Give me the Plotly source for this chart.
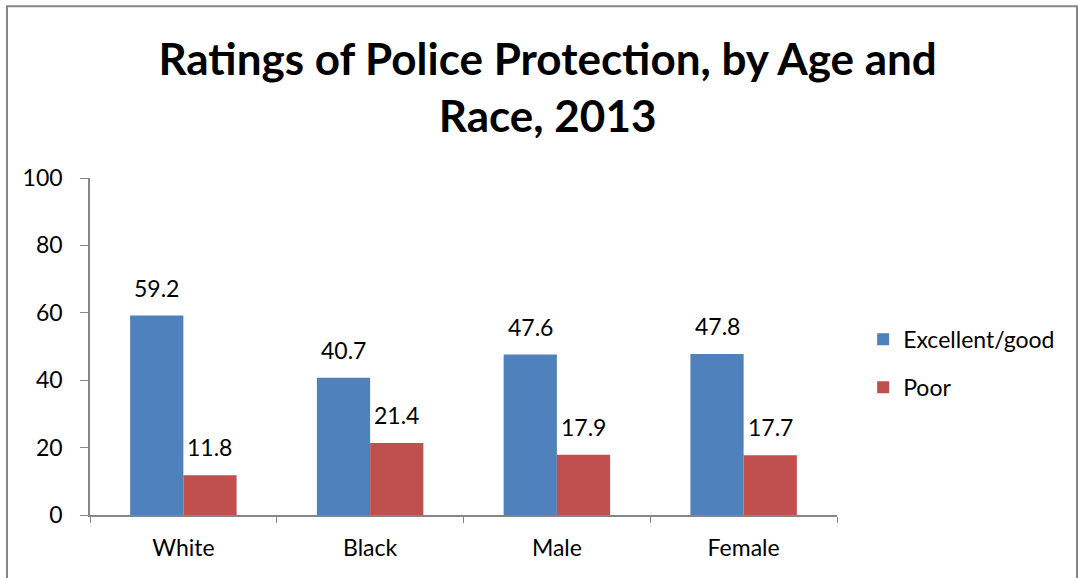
import plotly.graph_objects as go

categories = ["White", "Black", "Male", "Female"]
excellent_good = [59.2, 40.7, 47.6, 47.8]
poor = [11.8, 21.4, 17.9, 17.7]
series_names = ["Excellent/good", "Poor"]
colors = ["#4F81BD", "#C0504D"]
y_ticks = [0, 20, 40, 60, 80, 100]

FONT = "Lato, Calibri, Carlito, sans-serif"

fig = go.Figure()
for name, vals, col, grp in zip(series_names, [excellent_good, poor], colors, ["a", "b"]):
    fig.add_trace(go.Bar(
        x=categories, y=vals, name=name, marker=dict(color=col, line=dict(width=0)),
        legendgroup=grp,
    ))

# value labels above each bar
for vals, shift in [(excellent_good, -26.5), (poor, 26.5)]:
    for c, v in zip(categories, vals):
        fig.add_annotation(
            x=c, y=v, text=f"{v:.1f}", showarrow=False, xshift=shift,
            yanchor="bottom", yshift=12, font=dict(size=23, color="#000000", family=FONT),
        )

# outer chart border
fig.add_shape(type="rect", xref="paper", yref="paper",
              x0=-0.1111, x1=1.3213, y0=-0.3, y1=1.510,
              line=dict(color="#868686", width=2), layer="below")

fig.update_layout(
    width=1078, height=578,
    margin=dict(l=90, r=241, t=178, b=63),
    paper_bgcolor="white", plot_bgcolor="white",
    barmode="group", bargap=0.43, bargroupgap=0,
    font=dict(family=FONT, size=23, color="#000000"),
    title=dict(
        text="<b>Ratings of Police Protection, by Age and<br>Race, 2013</b>",
        x=0.508, xanchor="center", y=0.871, yanchor="middle",
        font=dict(size=44, family=FONT, color="#000000"),
    ),
    legend=dict(
        x=1.035, y=0.585, xanchor="left", yanchor="top",
        font=dict(size=23, family=FONT), tracegroupgap=15,
        bgcolor="rgba(0,0,0,0)",
    ),
    xaxis=dict(
        showline=True, linecolor="#868686", linewidth=1.5,
        ticks="outside", ticklen=6, tickcolor="#868686", tickson="boundaries",
        showgrid=False, tickfont=dict(size=23), ticklabelstandoff=12,
    ),
    yaxis=dict(
        range=[0, 100], tickvals=y_ticks, showline=True, linecolor="#868686", linewidth=1.5,
        ticks="outside", ticklen=8, tickcolor="#868686", showgrid=False, zeroline=False,
        tickfont=dict(size=23), ticklabelstandoff=13,
    ),
)

fig.write_html("out.html")
